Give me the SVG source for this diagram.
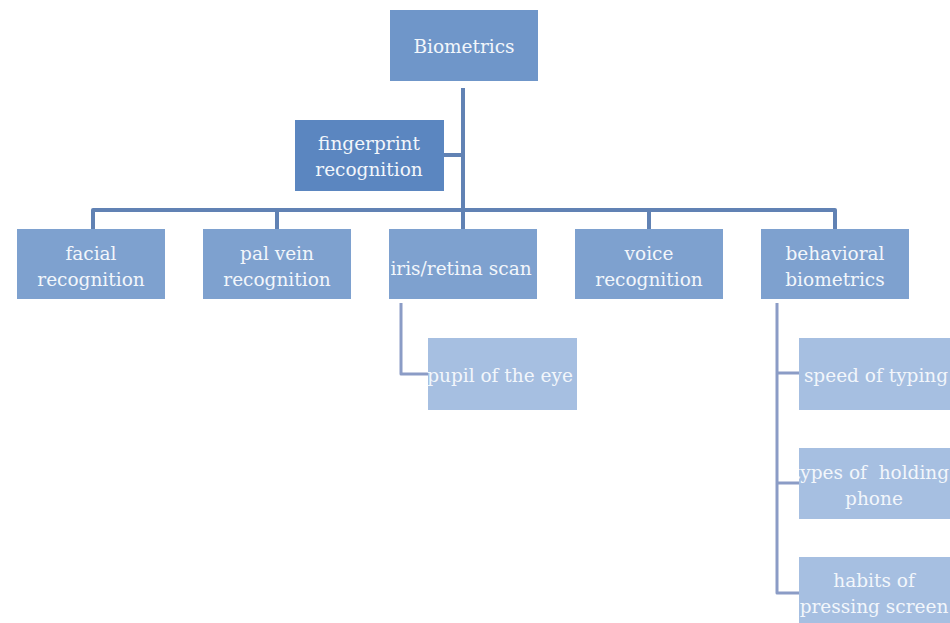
<svg xmlns="http://www.w3.org/2000/svg" width="950" height="623" viewBox="0 0 950 623">
<style>
.t{font-family:"DejaVu Serif","Liberation Serif",serif;font-size:18.5px;fill:#f2f6fb;text-anchor:middle}
.main{stroke:#6182b4;stroke-width:4;fill:none;stroke-linejoin:round}
.sub{stroke:#8b9cc6;stroke-width:3;fill:none;stroke-linejoin:round}
.top{fill:#6f96c9}
.fp{fill:#5b86c0}
.row{fill:#7ea1cf}
.leaf{fill:#a6bfe1}
</style>
<defs>
<clipPath id="c1"><rect x="799" y="338" width="151" height="72"/></clipPath>
<clipPath id="c2"><rect x="799" y="448" width="151" height="71"/></clipPath>
<clipPath id="c3"><rect x="799" y="557" width="151" height="71"/></clipPath>
</defs>
<rect width="950" height="623" fill="#ffffff"/>
<g id="connectors">
<path class="main" d="M463 88V210M444 155H463M93 229V210H835V229M277 210V229M463 210V229M649 210V229"/>
<path class="sub" d="M401 303V374H428"/>
<path class="sub" d="M777 303V593H799M777 373H799M777 483H799"/>
</g>
<g id="biometrics"><rect class="top" x="390" y="10" width="148" height="71"/><text class="t" x="464" y="53">Biometrics</text></g>
<g id="fingerprint"><rect class="fp" x="295" y="120" width="149" height="71"/><text class="t" x="369" y="150">fingerprint</text><text class="t" x="369" y="176">recognition</text></g>
<g id="facial"><rect class="row" x="17" y="229" width="148" height="70"/><text class="t" x="91" y="260">facial</text><text class="t" x="91" y="286">recognition</text></g>
<g id="palvein"><rect class="row" x="203" y="229" width="148" height="70"/><text class="t" x="277" y="260">pal vein</text><text class="t" x="277" y="286">recognition</text></g>
<g id="iris"><rect class="row" x="389" y="229" width="148" height="70"/><text class="t" x="461" y="275">iris/retina scan</text></g>
<g id="voice"><rect class="row" x="575" y="229" width="148" height="70"/><text class="t" x="649" y="260">voice</text><text class="t" x="649" y="286">recognition</text></g>
<g id="behavioral"><rect class="row" x="761" y="229" width="148" height="70"/><text class="t" x="835" y="260">behavioral</text><text class="t" x="835" y="286">biometrics</text></g>
<g id="pupil"><rect class="leaf" x="428" y="338" width="149" height="72"/><text class="t" x="500" y="382">pupil of the eye</text></g>
<g id="speed"><rect class="leaf" x="799" y="338" width="151" height="72"/><text class="t" x="876" y="382" clip-path="url(#c1)">speed of typing</text></g>
<g id="holding"><rect class="leaf" x="799" y="448" width="151" height="71"/><text class="t" x="871" y="479" clip-path="url(#c2)" style="white-space:pre">types of  holding</text><text class="t" x="874" y="505" clip-path="url(#c2)">phone</text></g>
<g id="habits"><rect class="leaf" x="799" y="557" width="151" height="71"/><text class="t" x="874" y="587" clip-path="url(#c3)">habits of</text><text class="t" x="874" y="613" clip-path="url(#c3)">pressing screen</text></g>
</svg>
